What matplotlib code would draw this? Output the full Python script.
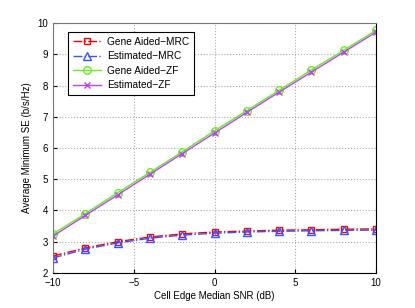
import matplotlib
matplotlib.use('Agg')
import matplotlib.pyplot as plt

plt.rcParams['font.family'] = ['Liberation Sans', 'DejaVu Sans']

snr_db = [-10, -8, -6, -4, -2, 0, 2, 4, 6, 8, 10]
gene_mrc = [2.54, 2.80, 3.00, 3.15, 3.25, 3.31, 3.34, 3.37, 3.38, 3.40, 3.41]
est_mrc = [2.48, 2.76, 2.96, 3.11, 3.21, 3.27, 3.31, 3.33, 3.35, 3.36, 3.37]
gene_zf = [3.25, 3.90, 4.57, 5.22, 5.88, 6.55, 7.20, 7.85, 8.50, 9.13, 9.77]
est_zf = [3.18, 3.84, 4.50, 5.16, 5.82, 6.48, 7.14, 7.79, 8.43, 9.07, 9.71]

fig = plt.figure(figsize=(4.15, 3.08), dpi=100)
ax = fig.add_axes([0.128, 0.114, 0.778, 0.811])

ax.plot(snr_db, gene_mrc, color='red', linestyle='-.', linewidth=1, marker='s',
        markersize=5, markerfacecolor='none', label='Gene Aided\u2212MRC')
ax.plot(snr_db, est_mrc, color='#3355ff', linestyle='-.', linewidth=1, marker='^',
        markersize=5.5, markerfacecolor='none', label='Estimated\u2212MRC')
ax.plot(snr_db, gene_zf, color='#66ee22', linestyle='-', linewidth=1, marker='o',
        markersize=5.5, markerfacecolor='none', label='Gene Aided\u2212ZF')
ax.plot(snr_db, est_zf, color='#bb44ee', linestyle='-', linewidth=1, marker='x',
        markersize=4, label='Estimated\u2212ZF')

ax.set_xlim(-10, 10)
ax.set_ylim(2, 10)
ax.set_xticks([-10, -5, 0, 5, 10])
ax.set_yticks(range(2, 11))
ax.tick_params(direction='in', labelsize=7, length=3)
ax.grid(True, linestyle=':', color='#aaaaaa', linewidth=0.8)
ax.spines['left'].set_color('#777777')
ax.spines['top'].set_color('#777777')

ax.set_xlabel('Cell Edge Median SNR (dB)', fontsize=7, labelpad=2)
ax.set_ylabel('Average Minimum SE (b/s/Hz)', fontsize=7, labelpad=4)

leg = ax.legend(loc='upper left', bbox_to_anchor=(0.046, 0.964), borderaxespad=0,
                fontsize=7.3, frameon=True, fancybox=False, edgecolor='black',
                framealpha=1, borderpad=0.45, labelspacing=0.45, handlelength=2.8,
                handletextpad=0.6)
leg.get_frame().set_linewidth(0.8)

fig.savefig('out.png', dpi=100)
